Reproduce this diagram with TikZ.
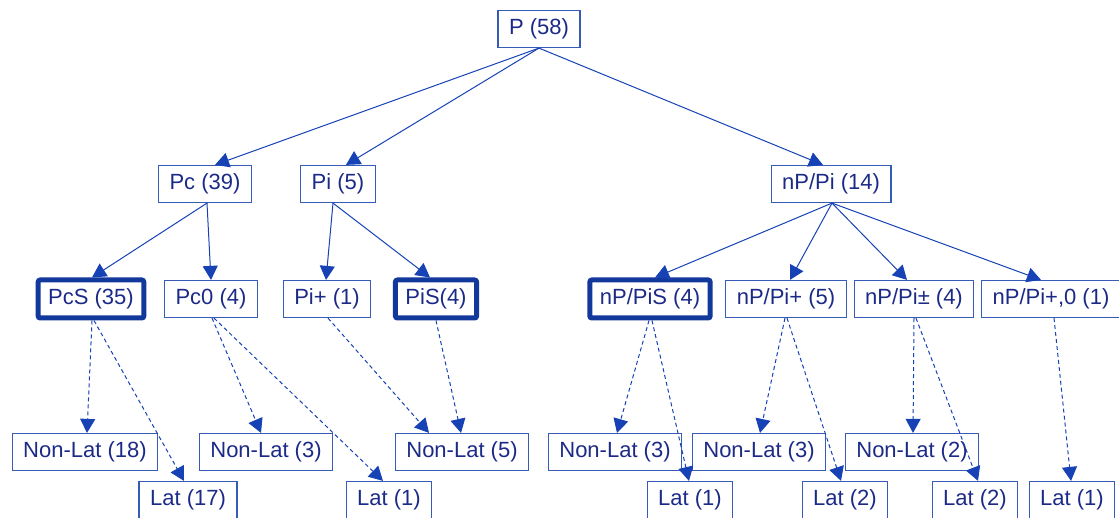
\documentclass[tikz,border=0pt]{standalone}
\usepackage{fontspec}
\setmainfont{Liberation Sans}
\usetikzlibrary{arrows.meta}
\definecolor{boxblue}{RGB}{55,92,182}
\definecolor{textblue}{RGB}{28,42,135}
\definecolor{linkblue}{RGB}{22,66,182}

\begin{document}
\begin{tikzpicture}[
        x=1pt, y=-1pt,
        every node/.style={font=\fontsize{22}{26}\selectfont, text=textblue},
        cat/.style={draw=boxblue, line width=1.2pt, minimum height=37pt, inner xsep=11pt, inner ysep=0pt},
        key/.style={draw=linkblue!85!black, line width=5pt, rounded corners=2pt, minimum height=38pt, inner xsep=10pt, inner ysep=0pt},
        link/.style={draw=linkblue, line width=1pt, -{Triangle[length=14pt, width=15pt]}},
        guess/.style={link, dashed, dash pattern=on 4pt off 3pt}
    ]
    \useasboundingbox (0,0) rectangle (1119,518);
    \node[cat] (p) at (539,29) {P (58)};
    \node[cat] (pc) at (205,184) {Pc (39)};
    \node[cat] (pi) at (338,184) {Pi (5)};
    \node[cat] (np) at (831,184) {nP/Pi (14)};
    \node[key] (pcs) at (91,299) {PcS (35)};
    \node[cat] (pc0) at (211,299) {Pc0 (4)};
    \node[cat] (pip) at (327,299) {Pi+ (1)};
    \node[key] (pis) at (436,299) {PiS(4)};
    \node[key] (nps) at (650,299) {nP/PiS (4)};
    \node[cat] (npp) at (786,299) {nP/Pi+ (5)};
    \node[cat] (npm) at (914,299) {nP/Pi± (4)};
    \node[cat] (npz) at (1051,299) {nP/Pi+,0 (1)};
    \node[cat] (nl18) at (85,452) {Non-Lat (18)};
    \node[cat] (nl3a) at (266,452) {Non-Lat (3)};
    \node[cat] (nl5) at (462,452) {Non-Lat (5)};
    \node[cat] (nl3b) at (615,452) {Non-Lat (3)};
    \node[cat] (nl3c) at (759,452) {Non-Lat (3)};
    \node[cat] (nl2) at (912,452) {Non-Lat (2)};
    \node[cat] (lat17) at (188,500) {Lat (17)};
    \node[cat] (lat1a) at (389,500) {Lat (1)};
    \node[cat] (lat1b) at (690,500) {Lat (1)};
    \node[cat] (lat2a) at (845,500) {Lat (2)};
    \node[cat] (lat2b) at (975,500) {Lat (2)};
    \node[cat] (lat1c) at (1072,500) {Lat (1)};
    \draw[link] (p.south) -- ([xshift=10pt]pc.north);
    \draw[link] (p.south) -- ([xshift=8pt]pi.north);
    \draw[link] (p.south) -- ([xshift=-8pt]np.north);
    \draw[link] ([xshift=2pt]pc.south) -- ([xshift=1pt]pcs.north);
    \draw[link] ([xshift=2pt]pc.south) -- (pc0.north);
    \draw[link] ([xshift=-5pt]pi.south) -- ([xshift=-1pt]pip.north);
    \draw[link] ([xshift=-5pt]pi.south) -- ([xshift=-6pt]pis.north);
    \draw[link] ([xshift=1pt]np.south) -- ([xshift=5pt]nps.north);
    \draw[link] ([xshift=1pt]np.south) -- ([xshift=4pt]npp.north);
    \draw[link] ([xshift=1pt]np.south) -- ([xshift=-7pt]npm.north);
    \draw[link] ([xshift=1pt]np.south) -- ([xshift=-10pt]npz.north);
    \draw[guess] ([xshift=1pt]pcs.south) -- ([xshift=2pt]nl18.north);
    \draw[guess] ([xshift=3pt]pcs.south) -- ([xshift=-4pt]lat17.north);
    \draw[guess] ([xshift=1pt]pc0.south) -- ([xshift=-5pt]nl3a.north);
    \draw[guess] ([xshift=3pt]pc0.south) -- ([xshift=-6pt]lat1a.north);
    \draw[guess] ([xshift=1pt]pip.south) -- ([xshift=-33pt]nl5.north);
    \draw[guess] (pis.south) -- ([xshift=-1pt]nl5.north);
    \draw[guess] ([xshift=-1pt]nps.south) -- ([xshift=2pt]nl3b.north);
    \draw[guess] ([xshift=2pt]nps.south) -- ([xshift=-1pt]lat1b.north);
    \draw[guess] ([xshift=-1pt]npp.south) -- ([xshift=1pt]nl3c.north);
    \draw[guess] ([xshift=1pt]npp.south) -- ([xshift=-4pt]lat2a.north);
    \draw[guess] (npm.south) -- ([xshift=1pt]nl2.north);
    \draw[guess] ([xshift=2pt]npm.south) -- ([xshift=3pt]lat2b.north);
    \draw[guess] ([xshift=3pt]npz.south) -- ([xshift=-1pt]lat1c.north);
\end{tikzpicture}
\end{document}
